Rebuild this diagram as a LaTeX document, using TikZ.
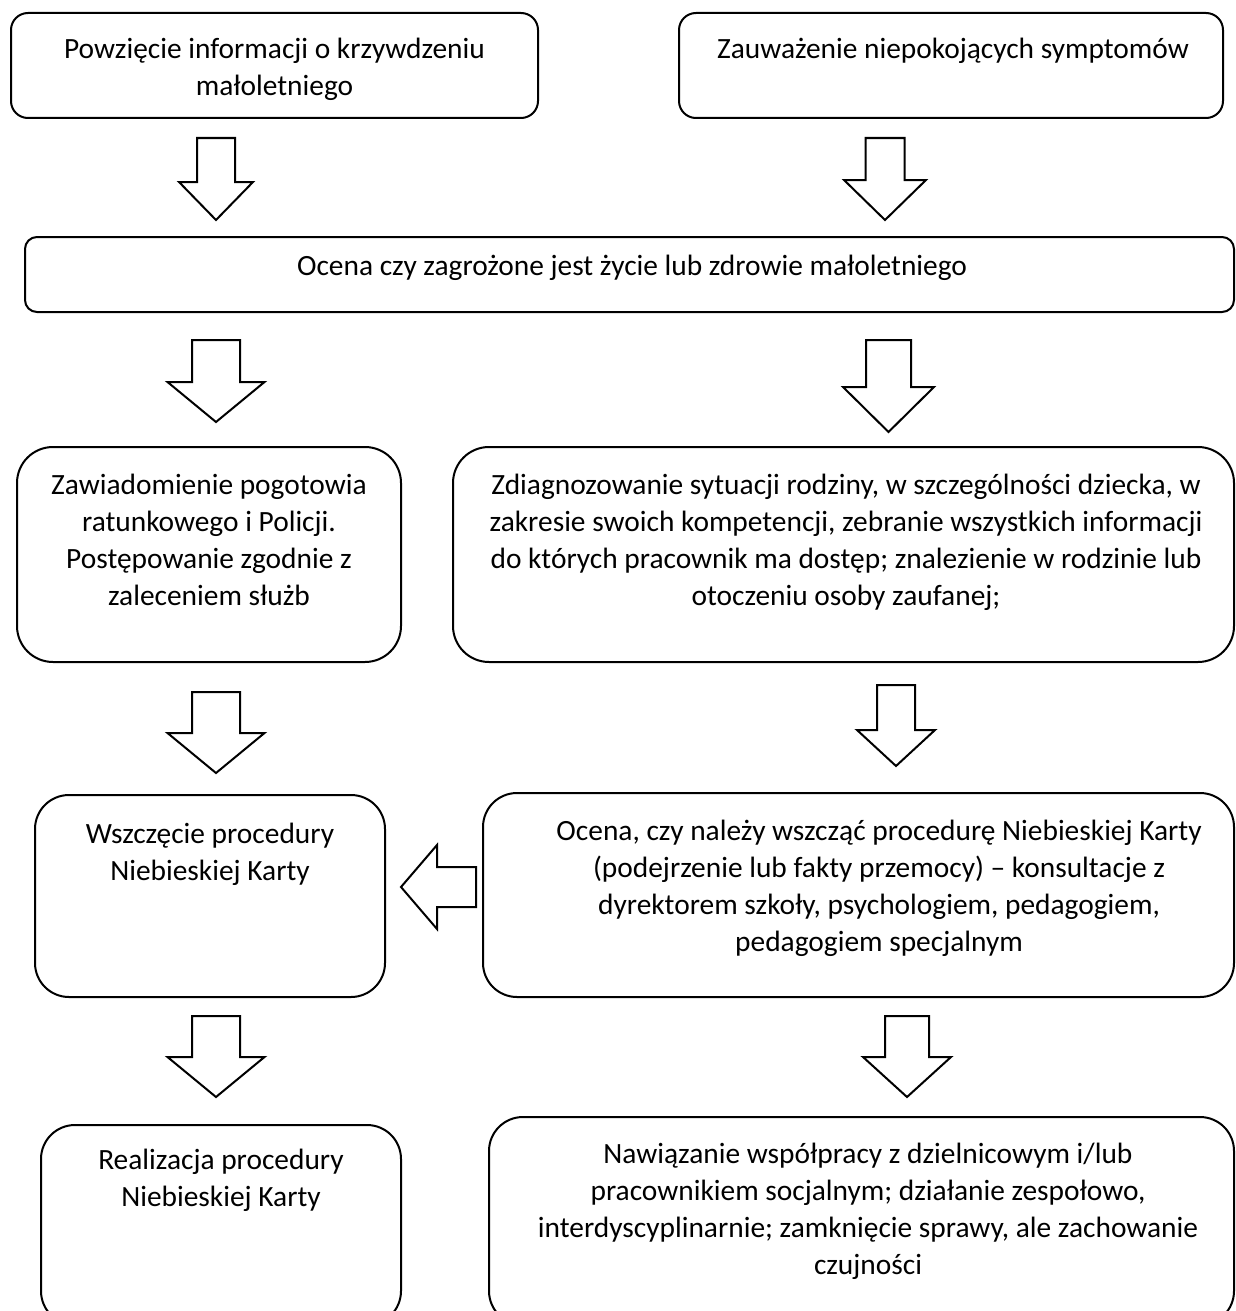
\documentclass[tikz,border=0pt]{standalone}
\usepackage{fontspec}
\setmainfont{Carlito}
\usetikzlibrary{fit}
\newcommand\blkdown[6]{% cx, shaft half, head half, top, head base, tip
  \draw[blk] (#1-#2,#4) -- (#1+#2,#4) -- (#1+#2,#5) -- (#1+#3,#5) -- (#1,#6) -- (#1-#3,#5) -- (#1-#2,#5) -- cycle;}
\begin{document}
\begin{tikzpicture}[x=0.5pt,y=-0.5pt,
  boxbase/.style={draw,line width=1pt,inner sep=0pt,outer sep=0pt},
  txt/.style={anchor=north,align=center,inner sep=0pt,font=\fontsize{14.7pt}{18.5pt}\selectfont},
  blk/.style={draw,fill=white,line width=1pt,line join=miter}]
\useasboundingbox (0,0) rectangle (1236,1311);
\begin{scope}
\clip (0,0) rectangle (1236,1311);
% boxes
\node[boxbase,rounded corners=8.5pt,fit={(11,13) (538,118)}] (b1) {};
\node[boxbase,rounded corners=8.5pt,fit={(679,13) (1223,118)}] (b2) {};
\node[boxbase,rounded corners=6pt,fit={(25,237) (1234,312)}] (b3) {};
\node[boxbase,rounded corners=18pt,fit={(17,447) (401,662)}] (b4) {};
\node[boxbase,rounded corners=18pt,fit={(453,447) (1234,662)}] (b5) {};
\node[boxbase,rounded corners=17pt,fit={(35,795) (385,997)}] (b6) {};
\node[boxbase,rounded corners=17pt,fit={(483,793) (1234,997)}] (b7) {};
\node[boxbase,rounded corners=17pt,fit={(41,1125) (401,1325)}] (b8) {};
\node[boxbase,rounded corners=17pt,fit={(489,1117) (1234,1325)}] (b9) {};
\end{scope}
% texts
\node[txt] (t1) at (274.5,32) {\strut Powzięcie informacji o krzywdzeniu\\małoletniego};
\node[txt] (t2) at (953,32) {\strut Zauważenie niepokojących symptomów};
\node[txt] (t3) at (632,249) {\strut Ocena czy zagrożone jest życie lub zdrowie małoletniego};
\node[txt] (t4) at (209,468) {\strut Zawiadomienie pogotowia\\ratunkowego i Policji.\\Postępowanie zgodnie z\\zaleceniem służb};
\node[txt] (t5) at (846,468) {\strut Zdiagnozowanie sytuacji rodziny, w szczególności dziecka, w\\zakresie swoich kompetencji, zebranie wszystkich informacji\\do których pracownik ma dostęp; znalezienie w rodzinie lub\\otoczeniu osoby zaufanej;};
\node[txt] (t6) at (210,817) {\strut Wszczęcie procedury\\Niebieskiej Karty};
\node[txt] (t7) at (879,814) {\strut Ocena, czy należy wszcząć procedurę Niebieskiej Karty\\(podejrzenie lub fakty przemocy) – konsultacje z\\dyrektorem szkoły, psychologiem, pedagogiem,\\pedagogiem specjalnym};
\node[txt] (t8) at (221,1143) {\strut Realizacja procedury\\Niebieskiej Karty};
\node[txt] (t9) at (868,1137) {\strut Nawiązanie współpracy z dzielnicowym i/lub\\pracownikiem socjalnym; działanie zespołowo,\\interdyscyplinarnie; zamknięcie sprawy, ale zachowanie\\czujności};
% block arrows
\blkdown{216}{19}{37}{138}{182}{220}
\blkdown{885}{19.5}{41}{138}{180}{220}
\blkdown{216}{24}{48.5}{340}{382}{422}
\blkdown{888.5}{22.5}{45.5}{340}{387}{432}
\blkdown{216}{24}{48.5}{692}{733}{773}
\blkdown{896}{19}{39}{685}{730}{766}
\blkdown{216}{24}{48.5}{1016}{1057}{1097}
\blkdown{907}{22}{44}{1016}{1057}{1097}
\draw[blk] (476,867) -- (476,907) -- (437,907) -- (437,929) -- (401,887) -- (437,845) -- (437,867) -- cycle;
\end{tikzpicture}
\end{document}
